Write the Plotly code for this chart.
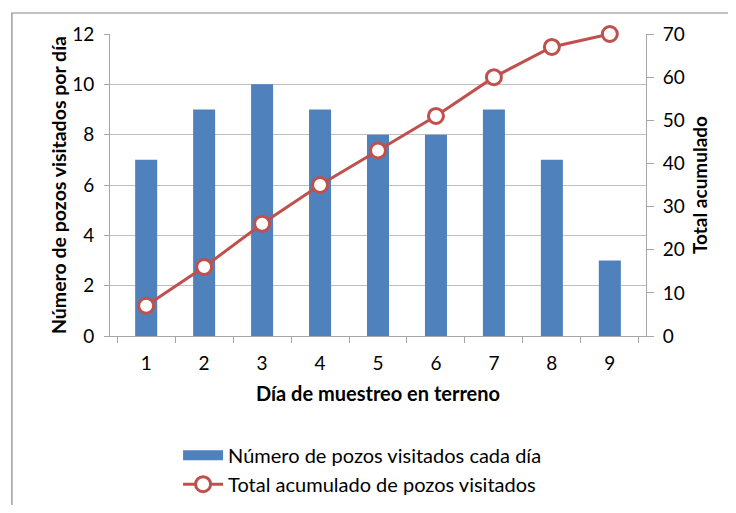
import plotly.graph_objects as go

DAYS = ["1", "2", "3", "4", "5", "6", "7", "8", "9"]
POZOS_DIA = [7, 9, 10, 9, 8, 8, 9, 7, 3]
ACUMULADO = [7, 16, 26, 35, 43, 51, 60, 67, 70]

BLUE = "#4f81bd"
RED = "#c0504d"
GRID = "#bfbfbf"
AXIS = "#a6a6a6"
FONT = "Lato"

fig = go.Figure()
fig.add_bar(x=DAYS, y=POZOS_DIA, name="Número de pozos visitados cada día",
            marker=dict(color=BLUE, line=dict(width=0)), showlegend=False)
# legend-only entry so the bar swatch is a wide block like the original
fig.add_scatter(x=[None], y=[None], mode="lines", name="Número de pozos visitados cada día",
                line=dict(color=BLUE, width=14), hoverinfo="skip")
fig.add_scatter(x=DAYS, y=ACUMULADO, yaxis="y2", mode="lines+markers", cliponaxis=False,
                name="Total acumulado de pozos visitados",
                line=dict(color=RED, width=3),
                marker=dict(size=15, color="white", line=dict(color=RED, width=3)))

# outer chart frame like the spreadsheet export
fig.add_shape(type="rect", xref="paper", yref="paper", x0=-0.183, x1=1.3, y0=-0.7, y1=1.0695,
              line=dict(color="#868686", width=1.2), layer="below")

# page body has an 8px margin, so the figure is shrunk to fit the window
fig.update_layout(
    width=720, height=497,
    margin=dict(l=102, r=82, t=26, b=169, autoexpand=False),
    paper_bgcolor="white", plot_bgcolor="white",
    font=dict(family=FONT, size=19, color="black"),
    bargap=0.62,
    xaxis=dict(type="category", tickson="boundaries", ticks="outside", ticklen=6,
               tickcolor=AXIS, showline=True, linecolor=AXIS, linewidth=1,
               showgrid=False, tickfont=dict(size=19), automargin=False, ticklabelstandoff=10,
               title=dict(text="<b>Día de muestreo en terreno</b>", font=dict(size=20), standoff=14)),
    yaxis=dict(range=[0, 12], dtick=2, showgrid=True, gridcolor=GRID, gridwidth=1,
               showline=True, linecolor=AXIS, ticks="outside", ticklen=5, tickcolor=AXIS,
               zeroline=False, tickfont=dict(size=19), automargin=False, ticklabelstandoff=6,
               title=dict(text="<b>Número de pozos visitados por día</b>", font=dict(size=19.5), standoff=0)),
    yaxis2=dict(range=[0, 70], dtick=10, overlaying="y", side="right", showgrid=False,
                showline=True, linecolor=AXIS, ticks="outside", ticklen=7, tickcolor=AXIS,
                zeroline=False, tickfont=dict(size=19), automargin=False, ticklabelstandoff=5,
                title=dict(text="<b>Total acumulado</b>", font=dict(size=19), standoff=9)),
    legend=dict(x=0.127, y=-0.33, xanchor="left", yanchor="top", orientation="v",
                font=dict(size=20), bgcolor="rgba(0,0,0,0)", tracegroupgap=0,
                itemwidth=40),
    showlegend=True,
)

fig.write_html("out.html")
